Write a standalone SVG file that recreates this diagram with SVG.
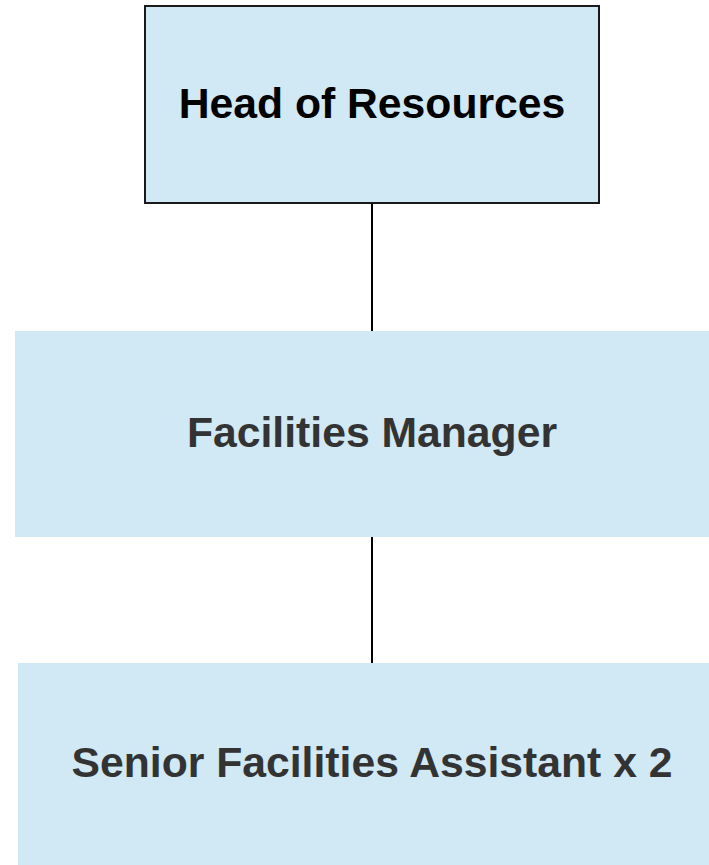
<svg xmlns="http://www.w3.org/2000/svg" width="709" height="865" viewBox="0 0 709 865">
<style>
.box{fill:#d1e8f5}
.top{stroke:#1a1a1a;stroke-width:2}
.lbl{font-family:"Liberation Sans",Arial,sans-serif;font-weight:bold;font-size:42.7px;text-anchor:middle}
.conn{stroke:#000;stroke-width:2;fill:none}
</style>
<rect width="709" height="865" fill="#ffffff"/>
<g id="connectors">
<line class="conn" x1="372" y1="204" x2="372" y2="332"/>
<line class="conn" x1="372" y1="536" x2="372" y2="663"/>
</g>
<g id="node-head">
<rect class="box top" x="145" y="6" width="454" height="197"/>
<text class="lbl" x="372" y="118" fill="#000000">Head of Resources</text>
</g>
<g id="node-manager">
<rect class="box" x="15" y="331" width="694" height="206"/>
<text class="lbl" x="372" y="447" fill="#333333">Facilities Manager</text>
</g>
<g id="node-assistant">
<rect class="box" x="18" y="663" width="691" height="202"/>
<text class="lbl" x="372" y="777" fill="#333333">Senior Facilities Assistant x 2</text>
</g>
</svg>
